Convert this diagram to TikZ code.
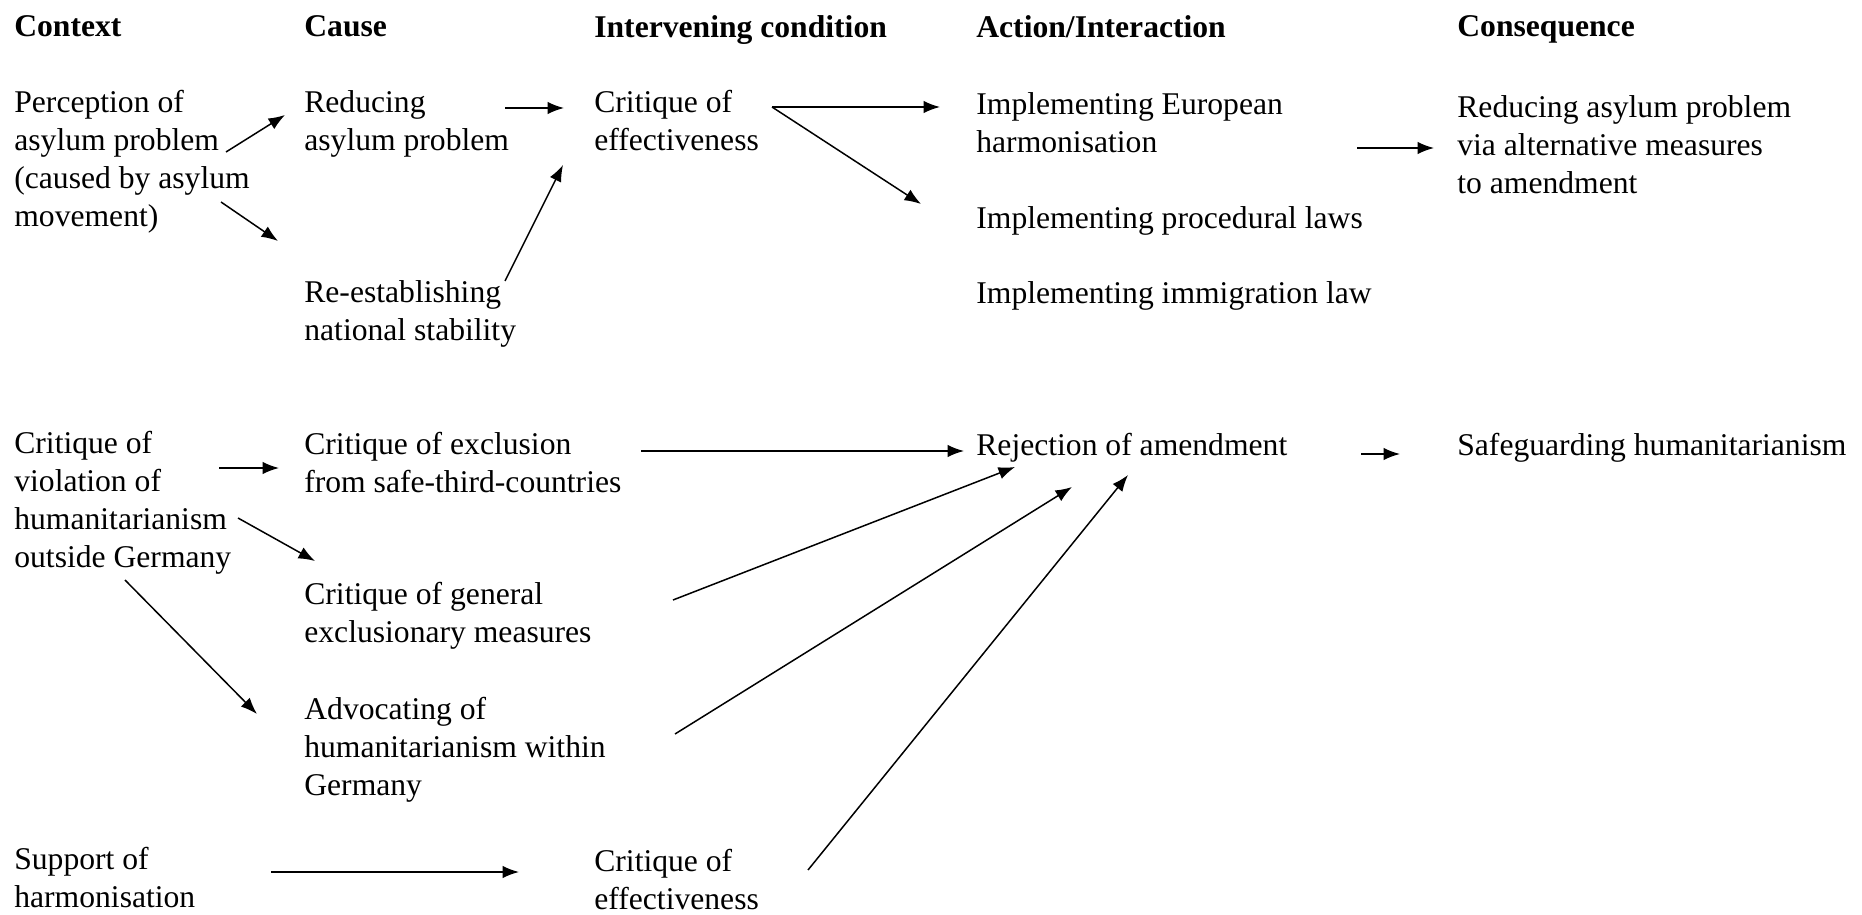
\documentclass[tikz,border=0pt]{standalone}
\usepackage{fontspec}
\setmainfont{Liberation Serif}
\usepackage{tikz}
\usetikzlibrary{arrows.meta,calc}
\tikzset{
  lbl/.style={anchor=north west, inner sep=0pt, align=left, font=\fontsize{18}{21.6}\selectfont},
  head/.style={lbl, font=\fontsize{18}{21.6}\selectfont\bfseries},
  arr/.style={-{Latex[length=3.3mm,width=2.5mm]}, line width=0.85pt}
}
\begin{document}
\begin{tikzpicture}[x=0.02cm,y=-0.02cm]
  \useasboundingbox (0,0) rectangle (1862,915);

  % column heads
  \node[head] (hctx)  at (14,15)   {Context};
  \node[head] (hcau)  at (304,15)  {Cause};
  \node[head] (hint)  at (594,15)  {Intervening condition};
  \node[head] (hact)  at (976,15)  {Action/Interaction};
  \node[head] (hcons) at (1457,15) {Consequence};

  % upper block
  \node[lbl] (ctx1)   at (14,90)   {Perception of\\asylum problem\\(caused by asylum\\movement)};
  \node[lbl] (cause1) at (304,90)  {Reducing\\asylum problem};
  \node[lbl] (cause2) at (304,280) {Re-establishing\\national stability};
  \node[lbl] (int1)   at (594,90)  {Critique of\\effectiveness};
  \node[lbl] (act1)   at (976,92)  {Implementing European\\harmonisation};
  \node[lbl] (act2)   at (976,206) {Implementing procedural laws};
  \node[lbl] (act3)   at (976,281) {Implementing immigration law};
  \node[lbl] (cons1)  at (1457,95) {Reducing asylum problem\\via alternative measures\\to amendment};

  % lower block
  \node[lbl] (ctx2)   at (14,431)  {Critique of\\violation of\\humanitarianism\\outside Germany};
  \node[lbl] (cause3) at (304,432) {Critique of exclusion\\from safe-third-countries};
  \node[lbl] (cause4) at (304,582) {Critique of general\\exclusionary measures};
  \node[lbl] (cause5) at (304,697) {Advocating of\\humanitarianism within\\Germany};
  \node[lbl] (act4)   at (976,433) {Rejection of amendment};
  \node[lbl] (cons2)  at (1457,433) {Safeguarding humanitarianism};
  \node[lbl] (ctx3)   at (14,847)  {Support of\\harmonisation};
  \node[lbl] (int2)   at (594,849) {Critique of\\effectiveness};

  % arrow ends
  \coordinate (c1a) at (226,152);  \coordinate (c1b) at (285,115);
  \coordinate (c2a) at (221,202);  \coordinate (c2b) at (278,241);
  \coordinate (r1a) at (505,108);  \coordinate (r1b) at (564,108);
  \coordinate (r2a) at (505,281);  \coordinate (r2b) at (563,165);
  \coordinate (e1a) at (772,107);  \coordinate (e1b) at (940,107);
  \coordinate (e2b) at (921,204);
  \coordinate (h1a) at (1357,148); \coordinate (h1b) at (1434,148);
  \coordinate (v1a) at (219,468);  \coordinate (v1b) at (279,468);
  \coordinate (v2a) at (238,518);  \coordinate (v2b) at (315,561);
  \coordinate (v3a) at (125,580);  \coordinate (v3b) at (257,714);
  \coordinate (x1a) at (641,451);  \coordinate (x1b) at (964,451);
  \coordinate (g1a) at (673,600);  \coordinate (g1b) at (1015,467);
  \coordinate (w1a) at (675,734);  \coordinate (w1b) at (1072,487);
  \coordinate (f2a) at (808,870);  \coordinate (f2b) at (1128,475);
  \coordinate (s1a) at (271,872);  \coordinate (s1b) at (519,872);
  \coordinate (j1a) at (1361,454); \coordinate (j1b) at (1400,454);

  \draw[arr] (c1a) -- (c1b);
  \draw[arr] (c2a) -- (c2b);
  \draw[arr] (r1a) -- (r1b);
  \draw[arr] (r2a) -- (r2b);
  \draw[arr] (e1a) -- (e1b);
  \draw[arr] (e1a) -- (e2b);
  \draw[arr] (h1a) -- (h1b);
  \draw[arr] (v1a) -- (v1b);
  \draw[arr] (v2a) -- (v2b);
  \draw[arr] (v3a) -- (v3b);
  \draw[arr] (x1a) -- (x1b);
  \draw[arr] (g1a) -- (g1b);
  \draw[arr] (w1a) -- (w1b);
  \draw[arr] (f2a) -- (f2b);
  \draw[arr] (s1a) -- (s1b);
  \draw[arr] (j1a) -- (j1b);
\end{tikzpicture}
\end{document}
